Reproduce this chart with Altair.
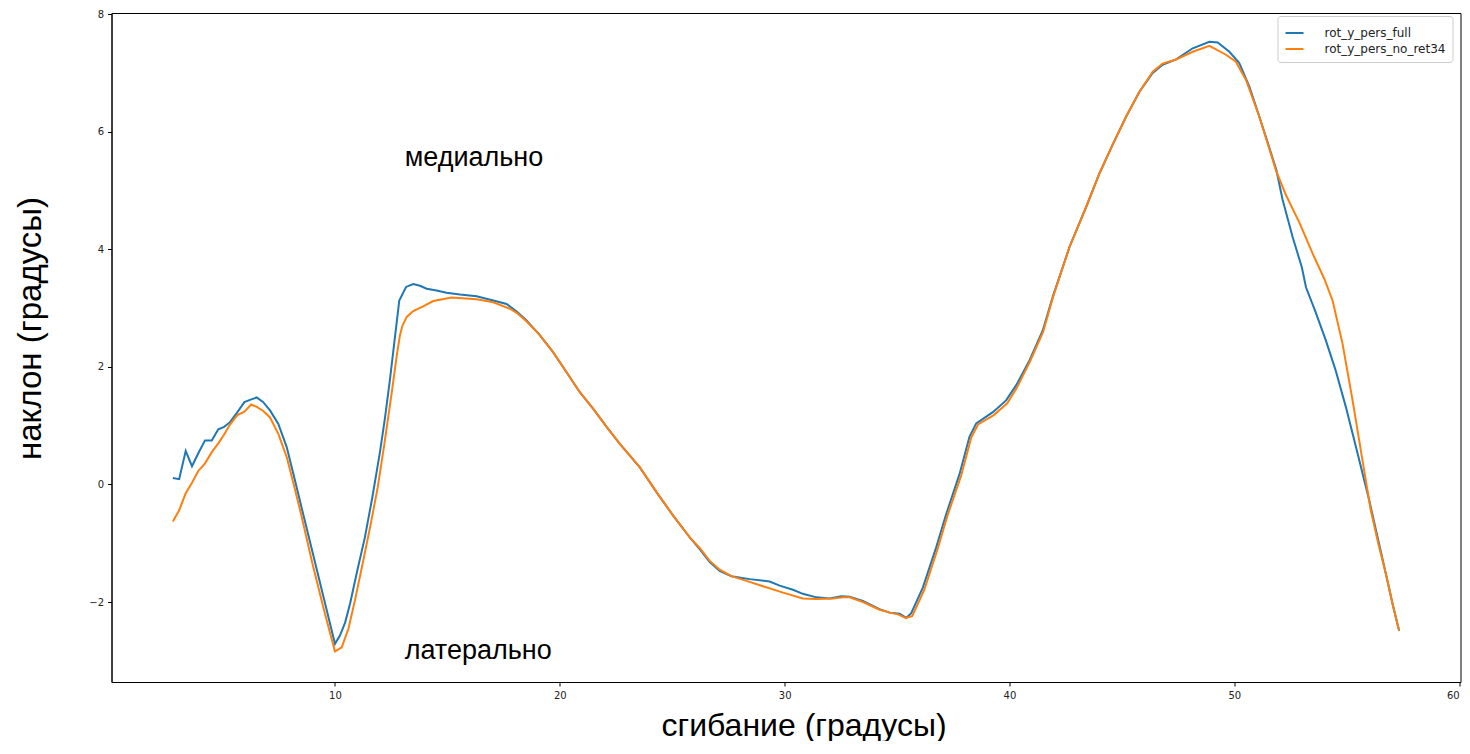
import altair as alt
import pandas as pd

# ---- data ----
full_x = [2.79, 3.07, 3.36, 3.64, 3.92, 4.22, 4.52, 4.81, 5.07, 5.33, 5.66, 5.97, 6.22, 6.52, 6.81,
          7.11, 7.48, 7.85, 8.2, 8.5, 9.0, 9.5, 10.0, 10.22, 10.45, 10.67, 11.0, 11.33, 11.67, 12.0,
          12.22, 12.44, 12.65, 12.86, 13.16, 13.48, 13.78, 14.08, 14.52, 14.96, 15.56, 16.3, 17.04,
          17.63, 18.08, 18.5, 19.11, 19.7, 20.3, 20.89, 21.48, 22.08, 22.67, 23.56, 24.3, 25.04,
          25.78, 26.22, 26.67, 27.11, 27.63, 28.44, 29.33, 29.78, 30.37, 30.81, 31.41, 32.0, 32.52,
          32.89, 33.48, 34.22, 34.67, 35.11, 35.41, 35.63, 36.15, 36.74, 37.19, 37.78, 38.22, 38.52,
          39.26, 39.85, 40.3, 40.89, 41.48, 41.93, 42.67, 43.41, 44.0, 44.59, 45.19, 45.78, 46.37,
          46.81, 47.41, 48.15, 48.89, 49.26, 49.78, 50.22, 50.67, 51.11, 51.5, 51.87, 52.15, 52.6,
          53.0, 53.19, 53.6, 54.07, 54.5, 54.96, 55.5, 56.0, 56.44, 56.74, 57.05, 57.33]
full_y = [0.11, 0.09, 0.57, 0.31, 0.53, 0.75, 0.75, 0.94, 0.98, 1.06, 1.23, 1.40, 1.44, 1.48, 1.40,
          1.26, 1.03, 0.64, 0.10, -0.37, -1.15, -1.93, -2.71, -2.57, -2.35, -2.03, -1.45, -0.90, -0.20, 0.55,
          1.12, 1.77, 2.45, 3.13, 3.36, 3.41, 3.38, 3.33, 3.30, 3.26, 3.23, 3.20, 3.13,
          3.07, 2.94, 2.80, 2.54, 2.25, 1.91, 1.57, 1.29, 0.98, 0.69, 0.29, -0.13, -0.53,
          -0.90, -1.10, -1.32, -1.47, -1.56, -1.61, -1.65, -1.72, -1.79, -1.86, -1.92, -1.94, -1.90,
          -1.91, -1.98, -2.12, -2.18, -2.20, -2.27, -2.19, -1.75, -1.07, -0.50, 0.18, 0.81, 1.04,
          1.23, 1.43, 1.69, 2.11, 2.62, 3.20, 4.04, 4.72, 5.29, 5.78, 6.26, 6.68, 7.00,
          7.14, 7.23, 7.42, 7.53, 7.52, 7.36, 7.17, 6.77, 6.26, 5.80, 5.35, 4.84, 4.20,
          3.70, 3.35, 2.95, 2.45, 1.95, 1.32, 0.50, -0.27, -1.01, -1.52, -2.05, -2.49]

noret_x = [2.79, 3.07, 3.36, 3.64, 3.92, 4.22, 4.52, 4.81, 5.07, 5.33, 5.66, 5.97, 6.27, 6.52, 6.81,
           7.11, 7.48, 7.85, 8.2, 8.5, 9.0, 9.5, 10.0, 10.3, 10.6, 10.9, 11.2, 11.55, 11.9, 12.2,
           12.5, 12.75, 12.89, 13.0, 13.19, 13.48, 13.92, 14.37, 15.19, 16.3, 17.04, 17.78, 18.08,
           18.5, 19.11, 19.7, 20.3, 20.89, 21.48, 22.08, 22.67, 23.56, 24.3, 25.04, 25.78, 26.22,
           26.67, 27.11, 27.63, 28.3, 29.04, 29.93, 30.81, 31.41, 32.15, 32.59, 32.89, 33.48, 34.22,
           34.67, 35.04, 35.38, 35.67, 36.2, 36.8, 37.25, 37.85, 38.3, 38.6, 39.3, 39.9, 40.35,
           40.92, 41.5, 41.93, 42.67, 43.41, 44.0, 44.59, 45.19, 45.78, 46.37, 46.81, 47.41, 48.15,
           48.89, 49.63, 50.07, 50.52, 51.11, 51.5, 51.87, 52.3, 52.9, 53.48, 54.0, 54.37, 54.81,
           55.26, 55.7, 56.07, 56.4, 56.74, 57.05, 57.33]
noret_y = [-0.63, -0.44, -0.15, 0.03, 0.23, 0.36, 0.55, 0.70, 0.85, 1.02, 1.18, 1.24, 1.36, 1.32, 1.25,
           1.14, 0.86, 0.47, -0.05, -0.52, -1.35, -2.12, -2.84, -2.77, -2.45, -1.95, -1.40, -0.75, -0.05, 0.70,
           1.50, 2.20, 2.54, 2.70, 2.85, 2.95, 3.03, 3.12, 3.18, 3.15, 3.10, 2.99, 2.92,
           2.78, 2.54, 2.25, 1.91, 1.57, 1.29, 0.98, 0.69, 0.29, -0.13, -0.53, -0.90, -1.08,
           -1.30, -1.45, -1.56, -1.64, -1.73, -1.84, -1.94, -1.95, -1.94, -1.92, -1.92, -2.00, -2.13,
           -2.18, -2.21, -2.27, -2.24, -1.80, -1.10, -0.52, 0.15, 0.80, 1.02, 1.18, 1.38, 1.66,
           2.10, 2.60, 3.18, 4.04, 4.72, 5.29, 5.78, 6.26, 6.68, 7.02, 7.16, 7.23, 7.36,
           7.46, 7.31, 7.19, 6.88, 6.26, 5.78, 5.32, 4.92, 4.45, 3.93, 3.50, 3.13, 2.40,
           1.43, 0.41, -0.44, -1.00, -1.52, -2.05, -2.49]

series_names = ["rot_y_pers_full", "rot_y_pers_no_ret34"]
series_colors = ["#1f77b4", "#ff7f0e"]

x_ticks = [10, 20, 30, 40, 50, 60]
y_ticks = [-2, 0, 2, 4, 6, 8]

ann_text = ["медиально", "латерально"]
ann_x = [13.1, 13.1]
ann_y = [5.55, -2.84]

# ---- build tables ----
rows = []
i = 0
for name, xs, ys in [(series_names[0], full_x, full_y), (series_names[1], noret_x, noret_y)]:
    for xv, yv in zip(xs, ys):
        rows.append({"x": xv, "y": yv, "series": name, "idx": i})
        i += 1
df = pd.DataFrame(rows)
ann = pd.DataFrame({"text": ann_text, "x": ann_x, "y": ann_y})

xscale = alt.Scale(domain=[0.06, 60.06], nice=False, zero=False)
yscale = alt.Scale(domain=[-3.36, 8.02], nice=False, zero=False)

common_axis = dict(grid=False, format="d",
                   titleFont="Liberation Sans", titleFontWeight="normal", titleColor="black",
                   titleBaseline="middle", titleAlign="center",
                   labelFont="DejaVu Sans", labelFontSize=10, labelColor="#222",
                   tickColor="black", tickSize=4, labelPadding=4,
                   domainColor="black", labelFlush=False, labelOverlap=False)

lines = alt.Chart(df).mark_line(strokeWidth=2).encode(
    x=alt.X("x:Q", scale=xscale,
            axis=alt.Axis(values=x_ticks, title="сгибание (градусы)",
                          titleFontSize=32, titleX=692, titleY=43,
                          labelAlign=alt.condition("datum.value >= 60", alt.value("right"),
                                                   alt.value("center")),
                          **common_axis)),
    y=alt.Y("y:Q", scale=yscale,
            axis=alt.Axis(values=y_ticks, title="наклон (градусы)",
                          titleFontSize=33, titleX=-81, titleY=315, titleAngle=270,
                          **common_axis)),
    color=alt.Color("series:N",
                    scale=alt.Scale(domain=series_names, range=series_colors),
                    legend=alt.Legend(title=None, orient="none", legendX=1166, legendY=3,
                                      symbolType="stroke", symbolSize=324, symbolStrokeWidth=2,
                                      labelFont="DejaVu Sans", labelFontSize=12, labelColor="#222",
                                      labelOffset=20, padding=7, rowPadding=0,
                                      fillColor="white", strokeColor="#cccccc", cornerRadius=3)),
    order=alt.Order("idx:Q"),
)

texts = alt.Chart(ann).mark_text(align="left", baseline="middle", font="Liberation Sans",
                                 fontSize=27, color="black").encode(
    x=alt.X("x:Q", scale=xscale),
    y=alt.Y("y:Q", scale=yscale),
    text="text:N",
)

chart = alt.layer(lines, texts).properties(
    width=1349, height=669,
    autosize=alt.AutoSizeParams(type="none"),
    padding={"left": 103.5, "top": 5, "right": 1, "bottom": 59},
).configure(background="white").configure_view(stroke="black", strokeWidth=1)

chart.save("out.html", embed_options={"renderer": "svg", "actions": False})
